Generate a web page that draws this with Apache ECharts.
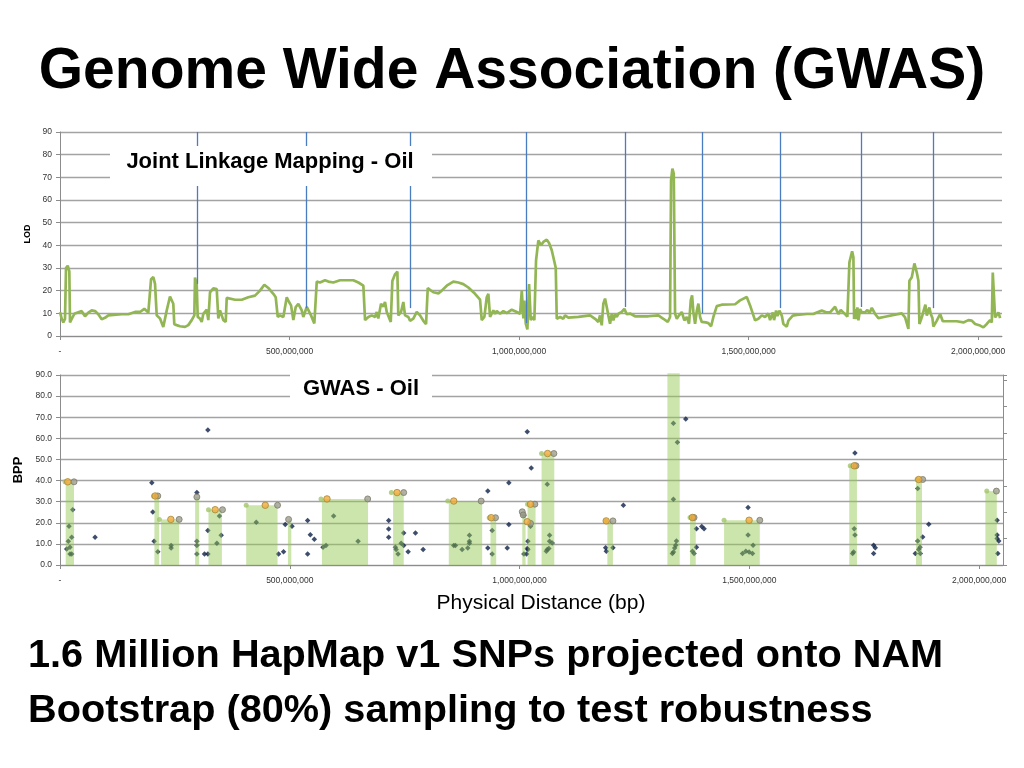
<!DOCTYPE html>
<html>
<head>
<meta charset="utf-8">
<script src="https://cdn.jsdelivr.net/npm/echarts@6/dist/echarts.min.js"></script>
<style>
html,body{margin:0;padding:0;background:#fff;}
#chart{width:1024px;height:768px;}
</style>
</head>
<body>
<div id="chart"></div>
<script>
// ---------- DATA (positions in Mb, converted to bp only for axis labels) ----------
const xTickValues = [0, 500, 1000, 1500, 2000];
const chrBoundaries = [299, 536, 763, 1015, 1231, 1399, 1569, 1745, 1902];
const lodBoundaryStops = [23, 12.3, 12.3, 5.7, 12.8, 10, 12.3, 12.8, 12.3];

// Joint linkage mapping LOD curve [position Mb, LOD]
const lodCurve = [
[0,10.5],[3.7,7.7],[7.2,6],[10.9,7.5],[13.1,30],[16.8,31],[20.3,28.5],[21.8,6],[25.5,7.5],[31.2,9.8],
[39.9,10.5],[43.6,9.8],[47.3,11],[50.8,9.8],[54.5,8.7],[61.7,10.3],[69.1,11.3],[76.3,11],[83.4,9.6],[90.8,7.4],
[98,8],[105.2,9.1],[134.4,9.6],[148.8,9.6],[163.4,10.6],[174.3,10.6],[183.7,12],[192.4,10.3],[198.3,25],[203.3,26],
[207,23],[210.7,9.1],[217.9,7.7],[225,4],[232.5,11.3],[239.6,17.4],[246.8,14.2],[249,5.2],[254.2,4.8],[261.4,4.3],
[272.3,4],[279.5,4.8],[286.9,7],[292.6,9.1],[294.1,25.8],[297.8,23],[300,8.4],[305,7.7],[308.7,6.2],[312.2,9.8],
[319.6,11.6],[323.1,7],[326.8,19.3],[334,21],[341.4,20.7],[344.9,7.7],[348.6,11.3],[355.8,7],[361,6.2],[363.2,16.8],
[381.3,16],[395.9,16],[410.2,17.1],[424.8,17.8],[435.7,20],[445.1,22.6],[453.8,21.2],[464.7,18.6],[469.9,17.1],[474.3,8.4],
[479.3,9.1],[486.5,8.4],[493.9,17.1],[498.9,15],[503.3,13.5],[508.3,7],[513.5,12.8],[519.2,14.2],[526.6,11.3],[530,8.4],
[537.5,12.8],[541,13.5],[546.8,9.1],[554,5.5],[557.1,6],[559.3,24],[566.4,23.6],[577.3,24.6],[584.5,24],[595.4,23.6],
[610,24.6],[639,24.6],[649.9,23.6],[660.8,22.2],[664.5,7],[671.7,8.4],[679.1,9.1],[686.3,8.4],[690,10.6],[693.4,7.7],
[699.3,14.2],[704.4,13],[708,15],[711.8,10.6],[715.3,9.8],[720.5,6.2],[724,24.3],[729.8,27.2],[734.9,28.4],[737,9.1],
[742.9,10.6],[747.9,15],[751.6,9.1],[758.8,8.4],[762.5,6.7],[769.7,7.7],[777.1,10.6],[784.3,9.1],[791.5,6.7],[797.4,5.2],
[801.1,21.2],[806.1,20.3],[813.3,19.3],[824.2,18.8],[831.6,20],[842.5,22.2],[856.8,24],[867.7,23.6],[878.6,22.9],[889.5,21.4],
[904.1,18.6],[915,16],[918.7,7],[924.4,8.4],[929.6,17.1],[933.1,18.6],[936.8,8.4],[944,11.3],[947.7,9.8],[951.4,11],
[958.6,9.8],[965.8,11],[973.3,10.1],[984.1,11.6],[995,10.6],[1002.2,9.8],[1005.9,20],[1009.4,7.7],[1011.6,15.6],[1014.6,5.5],
[1018.1,2.9],[1021.8,22.9],[1025.5,7],[1029,8.4],[1033.3,7],[1034.8,6.9],[1037,33.4],[1042,42.2],[1047.9,40],[1052.9,41.5],
[1060.3,42.5],[1065.3,41],[1071.2,37.8],[1079.9,30.1],[1082.1,7.6],[1089.3,8.4],[1096.5,7.6],[1100.1,9.1],[1107.4,8.1],[1129.2,8.4],
[1154.7,9.1],[1165.6,7.6],[1172.8,6.2],[1176.4,9.1],[1180.1,4.7],[1183.6,14.3],[1187.3,16.5],[1191,12.8],[1194.5,9.1],[1198.2,5.4],
[1201.9,9.8],[1205.4,6.9],[1209.1,9.5],[1212.8,8.4],[1216.3,9.8],[1220,9.1],[1223.7,10.6],[1229.4,12],[1234.5,9.6],[1241.7,9.9],
[1252.6,8.7],[1281.6,8.7],[1303.4,9.1],[1314.3,7.6],[1323.9,6.2],[1328.9,8.4],[1331.1,68.7],[1334,73.8],[1337,71.6],[1339.8,9.9],
[1343.6,7.6],[1348.5,9.1],[1354.4,10.6],[1360.1,6.9],[1365.3,8.4],[1370.3,5.4],[1374,15.7],[1376.9,17.9],[1379.7,10.6],[1383.4,5.4],
[1387.1,11],[1390.6,14.3],[1394.3,8.4],[1398,6.2],[1401.5,5.4],[1406.7,6],[1412.4,5.7],[1418.3,4.3],[1423.3,8.4],[1430.7,13.2],
[1441.6,13.8],[1470.6,14],[1481.4,15.7],[1496,17.2],[1503.2,13.5],[1514.1,6.9],[1521.3,7.6],[1528.7,9.1],[1535.8,8.4],[1543.1,9.9],
[1546.8,7],[1552.7,10.4],[1555.5,7],[1559.9,11.2],[1562.7,8.8],[1567.1,11.2],[1572.3,9],[1575.8,5.3],[1579.5,6],[1583.2,4.1],
[1586.7,6.8],[1590.4,7],[1596.2,9],[1605,9.3],[1626.7,9.7],[1641.1,9.7],[1648.5,10.4],[1659.4,11.2],[1670.3,10.4],[1677.5,10.4],
[1688.4,12.9],[1692.1,11.2],[1695.6,9.7],[1700.8,11.5],[1705.8,10.4],[1710.2,9.7],[1715.2,8.5],[1719.6,32.5],[1725.5,37.4],[1728.3,34.7],
[1729.8,7.5],[1732,11.9],[1734.2,7.5],[1737,12.6],[1739.2,6.9],[1742.9,11.9],[1746.6,10.4],[1753.8,10.4],[1758.8,11.5],[1763.1,10],
[1768.4,12.4],[1775.6,9.7],[1782.7,7.9],[1797.3,8.5],[1819.1,9.4],[1833.7,10],[1840.9,8.2],[1848.1,3.1],[1850.3,24.4],[1855.5,25.9],
[1861.2,32],[1866.4,28],[1869.9,24.4],[1872.1,5.3],[1877.3,8.2],[1882.3,11.9],[1885.1,13.8],[1888.2,9],[1893.8,12.6],[1896.9,9.7],
[1900.4,7.9],[1902.6,4.1],[1906.3,4.5],[1910,6.8],[1917.2,9.7],[1923,6.5],[1935.2,6.5],[1953.6,6.5],[1967.9,6],[1978.8,7],
[1986.2,6.8],[1993.4,5.3],[2004.3,4.6],[2011.5,3.8],[2018.9,5.3],[2026.1,7],[2029.8,6],[2031.9,28],[2034.8,27.8],[2036.9,8.2],
[2040.7,7.5],[2044.2,10.4],[2047.9,7.9]
];

// GWAS shaded regions [start Mb, end Mb, BPP]
const gwasRegions = [
[12.4,30.5,39.4],[205.4,215.7,32.7],[220,259.3,21.6],[294,302.8,32.2],[323.1,352.3,26.2],
[405.2,473.4,28.3],[496,503.3,21.6],[570,670.3,31.3],[724.8,748,34.3],[846,918.7,30.3],
[936.8,949.2,22.4],[1005.9,1013.1,25.2],[1017.4,1034.8,28.8],[1047.9,1075.6,52.8],[1191,1203.2,20.9],
[1321.7,1348.5,90.8],[1371,1383.4,22.5],[1445,1522.8,21.2],[1717.4,1734.2,47],[1862.7,1875.8,40.5],
[2013.7,2038.5,35]
];

// individual SNP BPP values [position Mb, BPP]
const snpPoints = [
[14.6,7.6],[18.1,11.3],[19.6,18.3],[21.8,8.4],[21.8,5.2],[25.5,5.2],[25.5,13.2],[27.7,26.2],[76.3,13.2],
[199.8,39],[202,25.1],[204.8,11.3],[212.8,6.3],[241.8,9.2],[241.8,8.1],
[297.8,34.3],[297.8,11.3],[297.8,9.2],[297.8,5.2],[314.4,5.2],[321.8,5.2],[321.8,16.3],[321.8,63.9],[341.4,10.3],[347,23.2],[350.8,14.1],
[427,20.3],[475.6,5.2],[486.5,6.3],[490.2,19.2],[504.8,18.3],
[538.8,21.1],[538.8,5.2],[544.7,14.3],[553.4,12.2],[572.3,8.4],[578.8,9.2],[595.4,23.2],[648.6,11.3],
[715.2,21.1],[715.2,17.1],[715.2,13.2],[729.8,8.4],[731.4,7.3],[735.7,5.2],[742.3,10.3],[747.9,9.2],[747.9,15.1],[757.5,6.3],[773.4,15.2],[790.2,7.3],
[856.8,9.2],[860.5,9.2],[875.1,7.3],[887.3,8.1],[891,11.3],[891,10.3],[891,14.1],
[930.9,35.1],[930.9,8.1],[940.5,16.3],[940.5,5.2],[973.2,8.1],[976.7,39],[976.7,19.2],
[1009.4,23.5],[1009.4,5.2],[1015.2,5.2],[1016.7,7.8],[1018.1,7.3],[1018.1,11.3],[1023.9,18.3],[1025.5,46],[1016.7,63.1],
[1060.3,38.3],[1065.3,14.1],[1065.3,11.2],[1071.2,10.4],[1060.3,7.3],[1063.8,7.8],[1058.2,6.5],
[1187.3,8.2],[1188.8,6.5],[1203.2,8.2],[1225.9,28.3],
[1334.8,67.1],[1343.5,58.1],[1334.8,31.2],[1341.4,11.4],[1339.8,9.3],[1337.6,8.1],[1334.8,6.2],[1332.6,5.4],[1361.6,69.1],
[1384.9,17.2],[1384.9,8.4],[1376.2,6.5],[1379.7,5.4],[1396.5,18.2],[1401.5,17.2],
[1497.3,27.2],[1497.3,14.2],[1508.2,9.3],[1492.3,6.5],[1485.2,5.4],[1499.5,6.2],[1506.9,5.4],
[1729.8,53],[1728.3,17.2],[1729.8,14.2],[1726.9,6.2],[1724.8,5.4],
[1770.5,9.3],[1774,8.2],[1770.5,5.4],
[1866.4,36.2],[1866.4,11.4],[1871.4,8.4],[1868.6,7.3],[1861.2,5.4],[1872.1,5.4],[1877.3,13.3],[1890.4,19.3],
[2039.2,21.2],[2039.2,14.2],[2039.2,12.5],[2042.8,11.4],[2040.7,5.4]
];

// region-edge markers [position Mb, BPP]
const leftMarks = [
[10.9,39.4],[203.3,32.7],[216.3,21.6],[323.1,26.2],[405.2,28.3],[568,31.3],[721.1,34.3],[843.8,30.3],[934,22.4],
[1017.4,28.8],[1047.9,52.8],[1187.3,20.9],[1321.7,90.8],[1371,22.5],[1445,21.2],[1719.6,47],[1864.9,40.5],[2016.7,35]
];
const centerMarks = [
[16.8,39.4],[207,32.7],[241.2,21.6],[337.7,26.2],[446.6,28.3],[581,31.3],[733.5,34.3],[856.8,30.3],[938.3,22.4],
[1016.7,20.5],[1023.9,28.8],[1061,52.8],[1188.5,20.9],[1337.6,90.8],[1376.2,22.5],[1499.5,21.2],[1728.3,47],[1868.6,40.5]
];
const rightMarks = [
[30.5,39.4],[212.8,32.7],[259.3,21.6],[297.8,32.2],[353.6,26.2],[473.4,28.3],[497.4,21.6],[669.5,31.3],[747.9,34.3],[916.5,30.3],
[947.7,22.4],[1005.9,25.2],[1008,23.7],[1023.9,19.7],[1033.3,28.8],[1074.7,52.8],[1203.2,20.9],[1347,90.8],[1379.7,22.5],
[1522.8,21.2],[1732,47],[1877.3,40.5],[2037.7,35]
];

// ---------- CHART ----------
const FONT = 'Liberation Sans';
const X_MAX = 2052;
const xFmt = v => v === 0 ? '-' : (v * 1e6).toLocaleString('en-US');

const chart = echarts.init(document.getElementById('chart'), null, {renderer: 'canvas'});

function xAxisCfg(gridIndex) {
  return {
    type: 'value', gridIndex, min: 0, max: X_MAX, interval: 500,
    axisLine: {show: true, lineStyle: {color: '#8c8c8c', width: 1}},
    axisTick: {show: true, length: 4, lineStyle: {color: '#8c8c8c'}},
    axisLabel: {show: true, formatter: xFmt, fontSize: 8.5, color: '#333', fontFamily: FONT, margin: 11, showMaxLabel: false},
    splitLine: {show: false}
  };
}
const splitStyle = {show: true, lineStyle: {color: '#a3a3a3', width: 1.3}};

const vLinesTop = chrBoundaries.map((b, i) => [{coord: [b, 90]}, {coord: [b, lodBoundaryStops[i]]}]);
const vLinesBottom = chrBoundaries.map(b => [{coord: [b, 0]}, {coord: [b, 91.5]}]);
const vLineStyle = {color: '#4a7cc0', width: 1.3, type: 'solid'};

const option = {
  animation: false,
  backgroundColor: '#ffffff',
  textStyle: {fontFamily: FONT},
  grid: [
    {left: 60, right: 22, top: 132, height: 204, containLabel: false},
    {left: 60, right: 21, top: 375, height: 190, containLabel: false}
  ],
  xAxis: [xAxisCfg(0), xAxisCfg(1)],
  yAxis: [
    {
      type: 'value', gridIndex: 0, min: 0, max: 90, interval: 10,
      name: 'LOD', nameLocation: 'middle', nameGap: 26, nameRotate: 90,
      nameTextStyle: {fontSize: 9, fontWeight: 'bold', color: '#000', fontFamily: FONT},
      axisLine: {show: true, lineStyle: {color: '#8c8c8c'}},
      axisTick: {show: true, length: 4, lineStyle: {color: '#8c8c8c'}},
      axisLabel: {fontSize: 8.5, color: '#333', fontFamily: FONT, margin: 8},
      splitLine: splitStyle
    },
    {
      type: 'value', gridIndex: 1, min: 0, max: 90, interval: 10,
      name: 'BPP', nameLocation: 'middle', nameGap: 33, nameRotate: 90,
      nameTextStyle: {fontSize: 13, fontWeight: 'bold', color: '#000', fontFamily: FONT},
      axisLine: {show: true, lineStyle: {color: '#8c8c8c'}},
      axisTick: {show: true, length: 4, lineStyle: {color: '#8c8c8c'}},
      axisLabel: {fontSize: 8.5, color: '#333', fontFamily: FONT, margin: 8, formatter: v => v.toFixed(1)},
      splitLine: splitStyle
    },
    {
      type: 'value', gridIndex: 1, position: 'right', min: 0, max: 7.2, interval: 1,
      axisLine: {show: true, lineStyle: {color: '#8c8c8c'}},
      axisTick: {show: true, length: 4, lineStyle: {color: '#8c8c8c'}},
      axisLabel: {show: false},
      splitLine: {show: false}
    }
  ],
  series: [
    {
      type: 'line', xAxisIndex: 0, yAxisIndex: 0, data: lodCurve,
      showSymbol: false, symbol: 'none', smooth: false, z: 3,
      lineStyle: {color: '#93b655', width: 2.7},
      markLine: {
        silent: true, symbol: ['none', 'none'], label: {show: false},
        lineStyle: vLineStyle, data: vLinesTop
      }
    },
    {
      type: 'scatter', xAxisIndex: 1, yAxisIndex: 1, data: snpPoints,
      symbol: 'diamond', symbolSize: 5.5, z: 2,
      itemStyle: {color: '#0e2147'},
      markLine: {
        silent: true, symbol: ['none', 'none'], label: {show: false},
        lineStyle: vLineStyle, data: vLinesBottom
      }
    },
    {
      type: 'custom', xAxisIndex: 1, yAxisIndex: 1, data: gwasRegions, z: 3,
      encode: {x: [0, 1], y: 2},
      renderItem: (params, api) => {
        const p1 = api.coord([api.value(0), api.value(2)]);
        const p2 = api.coord([api.value(1), 0]);
        return {type: 'rect', shape: {x: p1[0], y: p1[1], width: p2[0] - p1[0], height: p2[1] - p1[1]},
                style: {fill: 'rgba(146,200,80,0.47)'}};
      }
    },
    {
      type: 'scatter', xAxisIndex: 1, yAxisIndex: 1, data: leftMarks, z: 4,
      symbol: 'circle', symbolSize: 5, itemStyle: {color: '#a3c46a'}
    },
    {
      type: 'scatter', xAxisIndex: 1, yAxisIndex: 1, data: rightMarks, z: 4,
      symbol: 'circle', symbolSize: 6, itemStyle: {color: '#9e9e8e', borderColor: '#7a7a6a', borderWidth: 1}
    },
    {
      type: 'scatter', xAxisIndex: 1, yAxisIndex: 1, data: centerMarks, z: 5,
      symbol: 'circle', symbolSize: 6.5, itemStyle: {color: '#f4a93a', borderColor: '#a48a3a', borderWidth: 1}
    }
  ],
  graphic: [
    {type: 'text', left: 'center', top: 44, z: 100,
     style: {text: 'Genome Wide Association (GWAS)', font: 'bold 57px "Liberation Sans"', fill: '#000'}},
    {type: 'rect', z: 100, shape: {x: 110, y: 146, width: 322, height: 40}, style: {fill: '#fff'}},
    {type: 'text', z: 101, x: 270, y: 162,
     style: {text: 'Joint Linkage Mapping - Oil', font: 'bold 22px "Liberation Sans"', fill: '#000', align: 'center', verticalAlign: 'middle'}},
    {type: 'rect', z: 100, shape: {x: 290, y: 366, width: 142, height: 41}, style: {fill: '#fff'}},
    {type: 'text', z: 101, x: 361, y: 389,
     style: {text: 'GWAS - Oil', font: 'bold 22px "Liberation Sans"', fill: '#000', align: 'center', verticalAlign: 'middle'}},
    {type: 'text', z: 100, x: 541, y: 603,
     style: {text: 'Physical Distance (bp)', font: '21px "Liberation Sans"', fill: '#000', align: 'center', verticalAlign: 'middle'}},
    {type: 'text', z: 100, x: 28, y: 656,
     style: {text: '1.6 Million HapMap v1 SNPs projected onto NAM', font: 'bold 39.7px "Liberation Sans"', fill: '#000', align: 'left', verticalAlign: 'middle'}},
    {type: 'text', z: 100, x: 28, y: 711,
     style: {text: 'Bootstrap (80%) sampling to test robustness', font: 'bold 39.7px "Liberation Sans"', fill: '#000', align: 'left', verticalAlign: 'middle'}}
  ]
};
chart.setOption(option);
</script>
</body>
</html>
